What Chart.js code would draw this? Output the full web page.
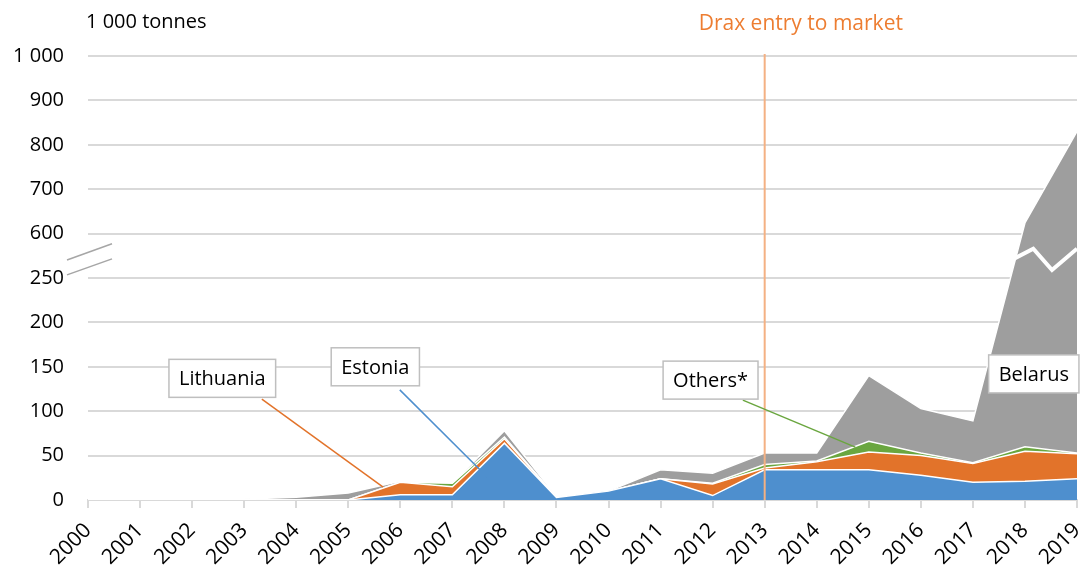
<!DOCTYPE html>
<html>
<head>
<meta charset="utf-8">
<script src="https://cdn.jsdelivr.net/npm/chart.js@4.4.0/dist/chart.umd.min.js"></script>
<style>
html, body { margin: 0; padding: 0; background: #fff; }
#wrap { width: 1082px; height: 565px; }
</style>
</head>
<body>
<div id="wrap"><canvas id="chart" width="1082" height="565"></canvas></div>
<script>
// values in 1 000 tonnes
var years = ['2000', '2001', '2002', '2003', '2004', '2005', '2006', '2007', '2008', '2009',
             '2010', '2011', '2012', '2013', '2014', '2015', '2016', '2017', '2018', '2019'];
var estonia   = [0, 0, 0, 0, 0, 0, 6, 6, 64, 3, 10, 24, 5, 34, 34, 34, 28, 20, 21, 24];
var lithuania = [0, 0, 0, 0, 0, 0, 14, 9, 5, 0, 0, 0, 13, 2, 9, 20, 22, 21, 34, 28];
var others    = [0, 0, 0, 0, 0, 0, 0, 4, 2, 0, 0, 0, 1, 4, 1, 12, 3, 1, 5, 1];
var belarus   = [0, 0, 0, 1, 3, 8, 1, 0, 7, 1, 0, 10, 11, 13, 9, 74, 50, 47, 564, 777];
var yTickLabels = ['0', '50', '100', '150', '200', '250', '600', '700', '800', '900', '1 000'];

var FONT = '"Open Sans", sans-serif';

// broken axis: 0-250 in steps of 50, then 600-1000 in steps of 100
function toStep(v) {
    if (v <= 250) return v / 50;
    if (v >= 600) return 6 + (v - 600) / 100;
    return 5 + (v - 250) / 350;
}

function cumulate(base, add) {
    var out = [];
    for (var i = 0; i < add.length; i++) out.push((base ? base[i] : 0) + add[i]);
    return out;
}

var cumE = cumulate(null, estonia);
var cumL = cumulate(cumE, lithuania);
var cumO = cumulate(cumL, others);
var cumB = cumulate(cumO, belarus);

function area(label, cum, color, fill) {
    return {
        label: label,
        data: cum.map(toStep),
        backgroundColor: color,
        borderColor: '#ffffff',
        borderWidth: 1.5,
        pointRadius: 0,
        tension: 0,
        fill: fill
    };
}

// callout boxes, positioned in (category index, axis step)
var callouts = [
    { text: 'Lithuania', x: 2.58, y: 2.74, color: '#E2732A', from: [3.34, 2.27], to: [5.67, 0.29] },
    { text: 'Estonia',   x: 5.52, y: 3.00, color: '#4E8FCE', from: [5.99, 2.48], to: [7.67, 0.52] },
    { text: 'Others*',   x: 11.96, y: 2.70, color: '#6AA63F', from: [12.58, 2.25], to: [14.74, 1.19] },
    { text: 'Belarus',   x: 18.17, y: 2.84 }
];
var breakZigzag = [[17.7, 5.38], [18.16, 5.66], [18.52, 5.18], [19.0, 5.66]];

var extras = {
    id: 'extras',
    afterDatasetsDraw: function (chart) {
        var ctx = chart.ctx, xs = chart.scales.x, ys = chart.scales.y, a = chart.chartArea;
        function px(i) { return xs.left + (xs.right - xs.left) * i / (years.length - 1); }
        ctx.save();

        // white break line across Belarus area
        ctx.beginPath();
        ctx.rect(a.left, a.top, a.right - a.left, a.bottom - a.top);
        ctx.clip();
        ctx.strokeStyle = '#ffffff';
        ctx.lineWidth = 4;
        ctx.beginPath();
        breakZigzag.forEach(function (p, k) {
            var X = px(p[0]), Y = ys.getPixelForValue(p[1]);
            if (k === 0) ctx.moveTo(X, Y); else ctx.lineTo(X, Y);
        });
        ctx.stroke();
        ctx.restore();
        ctx.save();

        // year labels, rotated 45 degrees, ending under each tick
        ctx.font = '21px ' + FONT;
        ctx.fillStyle = '#000000';
        ctx.textAlign = 'right';
        ctx.textBaseline = 'middle';
        years.forEach(function (y, i) {
            ctx.save();
            ctx.translate(xs.getPixelForTick(i), a.bottom + 27);
            ctx.rotate(-Math.PI / 4);
            ctx.fillText(y, 0, 0);
            ctx.restore();
        });

        // Drax line
        var dx = px(years.indexOf('2013'));
        ctx.strokeStyle = '#F4B183';
        ctx.lineWidth = 2;
        ctx.beginPath();
        ctx.moveTo(dx, a.top - 2);
        ctx.lineTo(dx, a.bottom);
        ctx.stroke();
        ctx.font = '21px ' + FONT;
        ctx.fillStyle = '#ED7D31';
        ctx.textAlign = 'left';
        ctx.fillText('Drax entry to market', dx - 66, 24);

        // unit label
        ctx.font = '20px ' + FONT;
        ctx.fillStyle = '#000000';
        ctx.fillText('1 000 tonnes', 86, 22);

        // axis break marks
        ctx.strokeStyle = '#A6A6A6';
        ctx.lineWidth = 1.5;
        [[5.405, 5.77], [5.07, 5.43]].forEach(function (s) {
            ctx.beginPath();
            ctx.moveTo(a.left - 21, ys.getPixelForValue(s[0]));
            ctx.lineTo(a.left + 24, ys.getPixelForValue(s[1]));
            ctx.stroke();
        });

        // callouts
        callouts.forEach(function (c) {
            if (c.from) {
                ctx.strokeStyle = c.color;
                ctx.lineWidth = 1.5;
                ctx.beginPath();
                ctx.moveTo(px(c.from[0]), ys.getPixelForValue(c.from[1]));
                ctx.lineTo(px(c.to[0]), ys.getPixelForValue(c.to[1]));
                ctx.stroke();
            }
            ctx.font = '20px ' + FONT;
            var w = ctx.measureText(c.text).width + 20, h = 38;
            var cx = px(c.x), cy = ys.getPixelForValue(c.y);
            ctx.fillStyle = '#ffffff';
            ctx.fillRect(cx - w / 2, cy - h / 2, w, h);
            ctx.strokeStyle = '#BFBFBF';
            ctx.lineWidth = 1.5;
            ctx.strokeRect(cx - w / 2, cy - h / 2, w, h);
            ctx.fillStyle = '#000000';
            ctx.textAlign = 'center';
            ctx.fillText(c.text, cx, cy + 1);
        });
        ctx.restore();
    }
};

new Chart(document.getElementById('chart').getContext('2d'), {
    type: 'line',
    data: {
        labels: years,
        datasets: [
            area('Estonia', cumE, '#4E8FCE', 'origin'),
            area('Lithuania', cumL, '#E2732A', '-1'),
            area('Others*', cumO, '#6AA63F', '-1'),
            area('Belarus', cumB, '#9E9E9E', '-1')
        ]
    },
    options: {
        responsive: false,
        animation: false,
        layout: { padding: { top: 56, right: 5, left: 0, bottom: 0 } },
        plugins: { legend: { display: false }, tooltip: { enabled: false } },
        scales: {
            x: {
                type: 'category',
                offset: false,
                grid: { drawOnChartArea: false, drawTicks: true, tickLength: 8, color: '#D9D9D9', lineWidth: 2 },
                border: { color: '#D9D9D9', width: 2 },
                ticks: { display: false, autoSkip: false },
                afterFit: function (s) { s.height = 65; s.paddingLeft = 0; s.paddingRight = 0; }
            },
            y: {
                min: 0,
                max: 10,
                grid: { color: '#D9D9D9', lineWidth: 2, drawTicks: false },
                border: { display: false },
                ticks: {
                    stepSize: 1,
                    padding: 24,
                    color: '#000',
                    font: { family: FONT, size: 20 },
                    callback: function (v) { return yTickLabels[v]; }
                },
                afterFit: function (s) { s.width = 88; s.paddingTop = 0; s.paddingBottom = 0; }
            }
        }
    },
    plugins: [extras]
});
</script>
</body>
</html>
